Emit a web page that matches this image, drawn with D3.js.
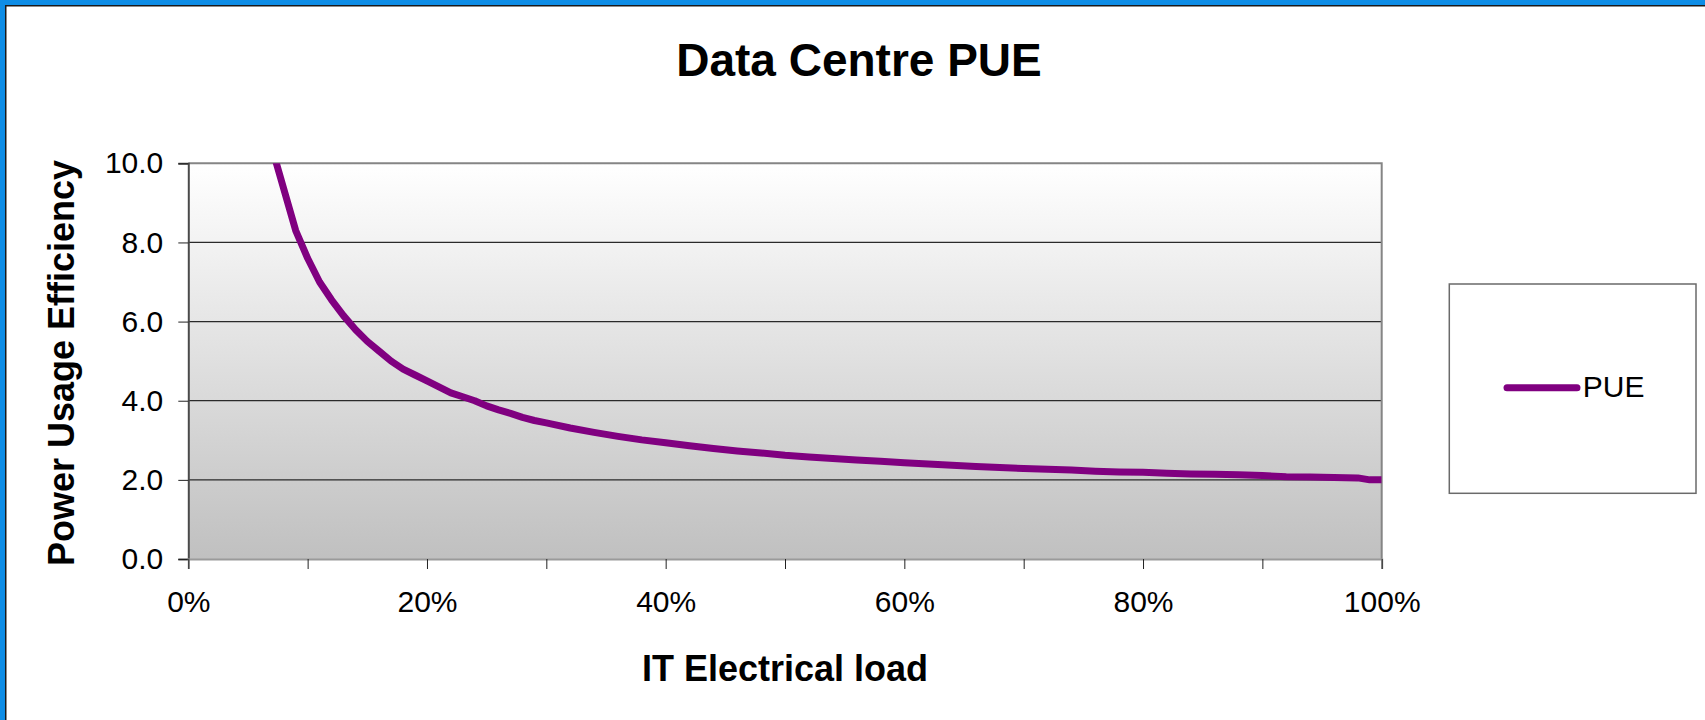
<!DOCTYPE html>
<html>
<head>
<meta charset="utf-8">
<script src="https://cdn.jsdelivr.net/npm/d3@7"></script>
<style>
  html, body { margin: 0; padding: 0; background: #fff; }
  svg { display: block; font-family: "Liberation Sans", Arial, sans-serif; }
</style>
</head>
<body>
<div id="chart"></div>
<script>
// IT load (%) and PUE
const loads = [7, 9, 10, 11, 12, 13, 14, 15, 16, 17, 18, 19, 20, 21, 22, 23, 24, 25, 26, 27, 28, 29, 30,
  32, 34, 36, 38, 40, 42, 44, 46, 48, 50, 52, 54, 56, 58, 60, 62, 64, 66, 68, 70,
  72, 74, 76, 78, 80, 82, 84, 86, 88, 90, 92, 94, 96, 98, 99, 100];
const pue = [10.4, 8.3, 7.6, 7.0, 6.55, 6.15, 5.8, 5.5, 5.25, 5.0, 4.8, 4.65, 4.5, 4.35, 4.2, 4.1, 4.0, 3.87, 3.77, 3.68, 3.58, 3.5, 3.44,
  3.31, 3.2, 3.1, 3.01, 2.94, 2.86, 2.79, 2.73, 2.68, 2.62, 2.58, 2.54, 2.5, 2.47, 2.43, 2.4, 2.37, 2.34, 2.31, 2.29,
  2.27, 2.25, 2.22, 2.2, 2.19, 2.17, 2.15, 2.14, 2.13, 2.11, 2.08, 2.07, 2.06, 2.05, 2.0, 2.0];
const yTicks = [0, 2, 4, 6, 8, 10];
const xTicks = [0, 10, 20, 30, 40, 50, 60, 70, 80, 90, 100];
const xLabelled = [0, 20, 40, 60, 80, 100];
const seriesName = "PUE";

const W = 1705, H = 720;
const margin = { top: 163.3, left: 188.3 },
      width = 1193.4,
      height = 395.7;
const purple = "#800080";

const svg = d3.select("#chart").append("svg")
  .attr("width", W)
  .attr("height", H);

// window frame (blue strip top and left)
svg.append("rect").attr("x", 0).attr("y", 0).attr("width", W).attr("height", 5).attr("fill", "#0e8de6");
svg.append("rect").attr("x", 0).attr("y", 0).attr("width", 5).attr("height", H).attr("fill", "#0e8de6");
svg.append("rect").attr("x", 5).attr("y", 5).attr("width", W - 5).attr("height", 1.5).attr("fill", "#1a1a1a");
svg.append("rect").attr("x", 5).attr("y", 5).attr("width", 1.5).attr("height", H - 5).attr("fill", "#1a1a1a");

const defs = svg.append("defs");
const grad = defs.append("linearGradient").attr("id", "bg").attr("x1", 0).attr("y1", 0).attr("x2", 0).attr("y2", 1);
grad.append("stop").attr("offset", "0%").attr("stop-color", "#ffffff");
grad.append("stop").attr("offset", "100%").attr("stop-color", "#c0c0c0");
defs.append("clipPath").attr("id", "clip")
  .append("rect").attr("width", width).attr("height", height);

const g = svg.append("g").attr("transform", `translate(${margin.left},${margin.top})`);

const x = d3.scaleLinear().domain([0, 100]).range([0, width]);
const y = d3.scaleLinear().domain([0, 10]).range([height, 0]);

g.append("rect").attr("width", width).attr("height", height).attr("fill", "url(#bg)");

// gridlines
g.selectAll(".grid")
  .data(yTicks.filter(d => d > 0 && d < 10))
  .join("line")
  .attr("x1", 0).attr("x2", width)
  .attr("y1", d => y(d)).attr("y2", d => y(d))
  .attr("stroke", "#2a2a2a").attr("stroke-width", 1.2);

// plot border top/right
g.append("path")
  .attr("d", `M0,${y(10)}H${width}V${height}`)
  .attr("fill", "none").attr("stroke", "#858585").attr("stroke-width", 2);

// y axis
const yAxis = g.append("g").call(d3.axisLeft(y).tickValues(yTicks).tickSize(10).tickPadding(15).tickFormat(d3.format(".1f")));
yAxis.select(".domain").attr("stroke", "#4a4a4a").attr("stroke-width", 2);
yAxis.selectAll(".tick line").attr("stroke", "#222");
yAxis.selectAll("text").attr("font-size", 30).attr("fill", "#000").attr("font-family", "Liberation Sans, Arial, sans-serif");

// x axis
const xAxis = g.append("g").attr("transform", `translate(0,${height})`)
  .call(d3.axisBottom(x).tickValues(xTicks).tickSize(10).tickPadding(22)
    .tickFormat(d => xLabelled.includes(d) ? d + "%" : ""));
xAxis.select(".domain").attr("stroke", "#9a9a9a").attr("stroke-width", 2);
xAxis.selectAll(".tick line").attr("stroke", "#222");
xAxis.selectAll("text").attr("font-size", 30).attr("fill", "#000").attr("font-family", "Liberation Sans, Arial, sans-serif");

// PUE line
const rows = loads.map((l, i) => ({ load: l, pue: pue[i] }));
const line = d3.line().x(d => x(d.load)).y(d => y(d.pue));
g.append("path")
  .datum(rows)
  .attr("clip-path", "url(#clip)")
  .attr("fill", "none")
  .attr("stroke", purple)
  .attr("stroke-width", 7)
  .attr("stroke-linejoin", "round")
  .attr("d", line);

// titles
svg.append("text")
  .attr("x", 859).attr("y", 76)
  .attr("text-anchor", "middle")
  .attr("font-size", 46).attr("font-weight", "bold")
  .text("Data Centre PUE");

svg.append("text")
  .attr("x", margin.left + width / 2).attr("y", 681)
  .attr("text-anchor", "middle")
  .attr("font-size", 36).attr("font-weight", "bold")
  .text("IT Electrical load");

svg.append("text")
  .attr("transform", `translate(74,${363}) rotate(-90)`)
  .attr("text-anchor", "middle")
  .attr("font-size", 36).attr("font-weight", "bold")
  .text("Power Usage Efficiency");

// legend
const legend = svg.append("g").attr("transform", "translate(1449.3,284)");
legend.append("rect")
  .attr("width", 246.7).attr("height", 209.3)
  .attr("fill", "#fff").attr("stroke", "#6a6a6a").attr("stroke-width", 1.5);
legend.append("line")
  .attr("x1", 57.7).attr("x2", 127.7).attr("y1", 103.7).attr("y2", 103.7)
  .attr("stroke", purple).attr("stroke-width", 7).attr("stroke-linecap", "round");
legend.append("text")
  .attr("x", 133.5).attr("y", 113)
  .attr("font-size", 30)
  .text(seriesName);
</script>
</body>
</html>
